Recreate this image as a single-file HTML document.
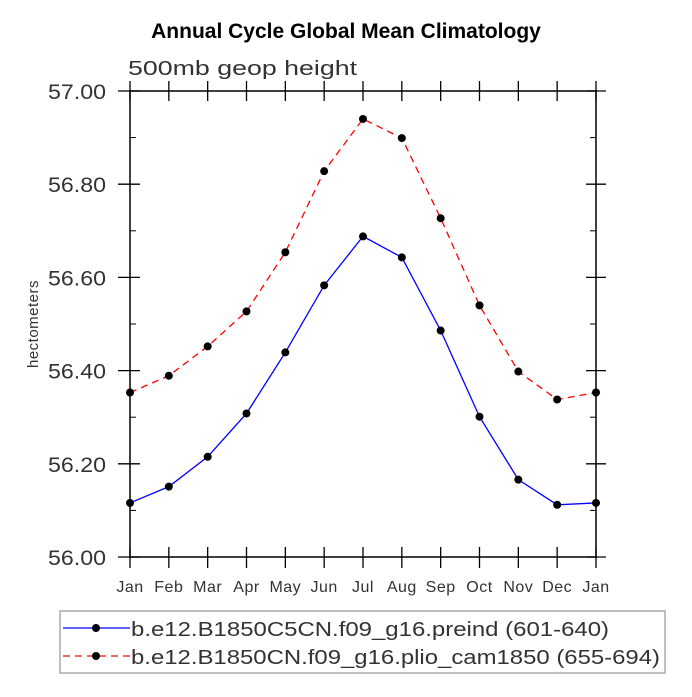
<!DOCTYPE html>
<html><head><meta charset="utf-8"><style>
body{margin:0;background:#fff}
text{font-family:"Liberation Sans",sans-serif}
</style></head><body>
<svg id="c" width="692" height="692" xmlns="http://www.w3.org/2000/svg"></svg>
<script>
const months=["Jan","Feb","Mar","Apr","May","Jun","Jul","Aug","Sep","Oct","Nov","Dec","Jan"];
const preind=[56.116,56.151,56.215,56.308,56.439,56.583,56.688,56.643,56.486,56.301,56.166,56.112,56.116];
const plio=[56.353,56.389,56.452,56.527,56.654,56.828,56.940,56.899,56.727,56.540,56.398,56.338,56.353];
const yTicks=[56.00,56.20,56.40,56.60,56.80,57.00];
const yMinor=[56.10,56.30,56.50,56.70,56.90];
const NS="http://www.w3.org/2000/svg";
const svg=document.getElementById('c');
const L=130,R=596,T=91,B=557;
const X=i=>L+(R-L)*i/(months.length-1);
const Y=v=>B-(v-56)/(57-56)*(B-T);
function mk(tag,at,txt){const e=document.createElementNS(NS,tag);for(const k in at)e.setAttribute(k,at[k]);if(txt!==undefined)e.textContent=txt;svg.appendChild(e);return e;}
let e;
e=mk('text',{x:346,y:38,'text-anchor':'middle','font-size':21,'font-weight':'bold',fill:'#000'},'Annual Cycle Global Mean Climatology');


e=mk('text',{x:128,y:75,'font-size':20,fill:'#333',textLength:229,lengthAdjust:'spacingAndGlyphs'},'500mb geop height');


e=mk('rect',{x:L,y:T,width:R-L,height:B-T,fill:'none',stroke:'#000','stroke-width':1.5});


yTicks.forEach(v=>{
 const y=Y(v);
 e=mk('line',{x1:L-12,x2:L+10,y1:y,y2:y,stroke:'#000','stroke-width':1.3});
 
 
 mk('line',{x1:R-10,x2:R+10,y1:y,y2:y,stroke:'#000','stroke-width':1.3});
 e=mk('text',{x:48,y:y+8,'font-size':21,fill:'#333',textLength:58,lengthAdjust:'spacingAndGlyphs'},v.toFixed(2));
 
 
});
yMinor.forEach(v=>{const y=Y(v);mk('line',{x1:L,x2:L+6,y1:y,y2:y,stroke:'#000'});mk('line',{x1:R-6,x2:R,y1:y,y2:y,stroke:'#000'});});
months.forEach((m,i)=>{
 const x=X(i);
 e=mk('line',{x1:x,x2:x,y1:B-10,y2:B+11,stroke:'#000','stroke-width':1.3});
 
 
 mk('line',{x1:x,x2:x,y1:T-10,y2:T+10,stroke:'#000','stroke-width':1.3});
 e=mk('text',{x:x,y:B+35,'text-anchor':'middle','font-size':16,fill:'#333','letter-spacing':'0.5'},m);
 
 
});
e=mk('text',{x:0,y:0,transform:'translate(38,324) rotate(-90)','text-anchor':'middle','font-size':15,fill:'#333','letter-spacing':'0.5'},'hectometers');


function series(vals,color,dash,name){
 e=mk('polyline',{points:vals.map((v,i)=>X(i)+','+Y(v)).join(' '),fill:'none',stroke:color,'stroke-width':1.3,'stroke-dasharray':dash});
 
 
 vals.forEach((v,i)=>{
  e=mk('circle',{cx:X(i),cy:Y(v),r:4,fill:'#000'});
  
  
 });
}
series(preind,'#0000ff','none','preind');
series(plio,'#ff0000','7,5','plio');
e=mk('rect',{x:60,y:611,width:605,height:62,fill:'none',stroke:'#aaa','stroke-width':1.5});


[['#0000ff','none','b.e12.B1850C5CN.f09_g16.preind (601-640)',628,478],['#ff0000','7,5','b.e12.B1850CN.f09_g16.plio_cam1850 (655-694)',656,529]].forEach(([c,d,t,y,w])=>{
 mk('line',{x1:63,x2:130,y1:y,y2:y,stroke:c,'stroke-width':1.3,'stroke-dasharray':d});
 mk('circle',{cx:96,cy:y,r:4,fill:'#000'});
 e=mk('text',{x:131,y:y+8,'font-size':20,fill:'#333',textLength:w,lengthAdjust:'spacingAndGlyphs'},t);
 
 
});
</script>
</body></html>
